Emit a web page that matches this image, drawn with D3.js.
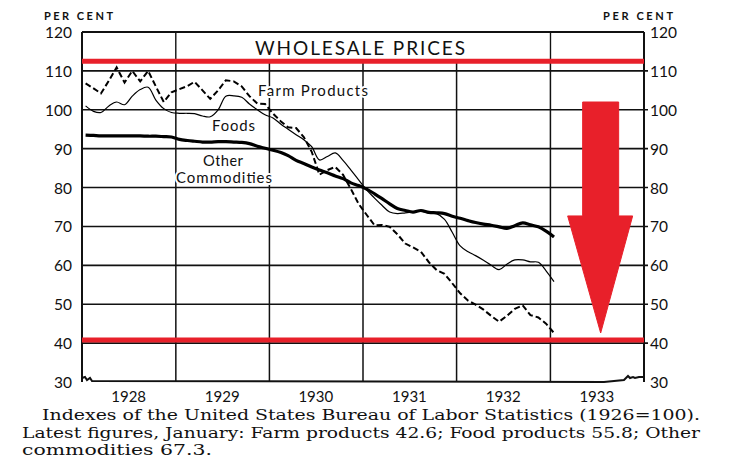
<!DOCTYPE html>
<html>
<head>
<meta charset="utf-8">
<script src="https://cdn.jsdelivr.net/npm/d3@7"></script>
<style>
  body { margin: 0; background: #fff; }
  svg { display: block; }
</style>
</head>
<body>
<svg></svg>
<script>
// monthly index values, Jan 1928 .. Jan 1933 (1926 = 100)
var farmProducts = [
  106.8, 105.5, 104.2, 107.5, 110.9, 107.0, 110.0, 107.3, 110.0, 106.0, 102.0, 104.5,
  105.3, 106.1, 107.2, 105.0, 102.8, 105.0, 107.6, 107.3, 106.0, 103.5, 101.6, 101.5,
  99.0, 97.0, 95.5, 95.3, 93.0, 89.2, 83.3, 84.5, 85.3, 83.3, 79.6, 75.8,
  73.0, 70.3, 70.4, 69.9, 68.0, 65.6, 64.6, 63.5, 60.8, 58.8, 57.8, 55.4,
  52.8, 50.9, 49.9, 48.6, 47.0, 45.5, 47.0, 48.8, 49.7, 47.2, 46.6, 45.0,
  42.6
];
var foods = [
  101.0, 99.6, 99.3, 101.0, 102.0, 101.3, 103.5, 105.2, 105.8, 102.5, 100.3, 99.3,
  99.1, 99.1, 99.0, 98.4, 98.2, 100.0, 103.5, 103.6, 103.2, 101.5, 100.0, 98.7,
  97.9, 96.3, 95.0, 93.6, 92.3, 90.5, 87.1, 88.0, 88.9, 87.0, 84.5, 82.0,
  79.4, 77.3, 75.5, 73.7, 73.3, 73.5, 73.7, 73.9, 73.4, 73.3, 71.8, 68.5,
  65.0, 63.5, 62.5, 61.3, 60.0, 58.9, 60.3, 61.4, 61.4, 60.9, 60.8, 58.6,
  55.8
];
var otherCommodities = [
  93.5, 93.4, 93.3, 93.3, 93.3, 93.3, 93.3, 93.3, 93.2, 93.2, 93.1, 93.0,
  92.4, 92.1, 91.9, 91.7, 91.7, 91.8, 91.8, 91.7, 91.6, 91.3, 90.6, 90.1,
  89.6, 89.0, 88.2, 87.0, 86.2, 85.3, 84.5, 83.8, 83.0, 82.3, 81.2, 80.5,
  79.6, 78.4, 77.2, 75.8, 74.6, 74.1, 73.7, 74.1, 73.6, 73.5, 73.3, 72.6,
  72.1, 71.5, 71.0, 70.6, 70.3, 69.9, 69.5, 70.2, 70.9, 70.4, 69.9, 68.8,
  67.3
];
var years = [1928, 1929, 1930, 1931, 1932, 1933];
var yTicks = [30, 40, 50, 60, 70, 80, 90, 100, 110, 120];

// red overlay marks drawn on the scan
var redLevels = [112.5, 40.8];
var arrowTop = 102, arrowNeck = 72.7, arrowTip = 42.6;

var caption = [
  "Indexes of the United States Bureau of Labor Statistics (1926=100).",
  "Latest figures, January:  Farm products 42.6; Food products 55.8; Other",
  "commodities 67.3."
];

var months = d3.timeMonth.range(new Date(1928, 0, 1), new Date(1933, 1, 1))
  .map(function(d) { return new Date(d.getFullYear(), d.getMonth(), 15); });

var svg = d3.select("svg").attr("width", 741).attr("height", 461);

var x = d3.scaleTime()
  .domain([new Date(1928, 0, 1), new Date(1934, 0, 1)])
  .range([82, 644]);
var y = d3.scaleLinear().domain([30, 120]).range([382, 32]);

var sans = "Lato, 'DejaVu Sans', sans-serif";
var red = "#e8202a";

// horizontal grid
svg.append("g").selectAll("line")
  .data(yTicks.filter(function(v) { return v > 30 && v < 120; })).enter()
  .append("line")
  .attr("x1", 82).attr("x2", 648)
  .attr("y1", function(v) { return y(v); })
  .attr("y2", function(v) { return y(v); })
  .attr("stroke", "#111").attr("stroke-width", 1.6);

// vertical grid at year boundaries
svg.append("g").selectAll("line")
  .data(years.slice(1)).enter()
  .append("line")
  .attr("x1", function(d) { return x(new Date(d, 0, 1)); })
  .attr("x2", function(d) { return x(new Date(d, 0, 1)); })
  .attr("y1", y(120)).attr("y2", y(30))
  .attr("stroke", "#111").attr("stroke-width", 1.5);

// title box hides the inner grid
svg.append("rect")
  .attr("x", x(new Date(1929, 0, 1)) + 1)
  .attr("width", x(new Date(1933, 0, 1)) - x(new Date(1929, 0, 1)) - 2)
  .attr("y", y(120) + 1).attr("height", y(112.5) - y(120) - 1)
  .attr("fill", "#fff");
svg.append("line")
  .attr("x1", 82).attr("x2", 644)
  .attr("y1", y(112.5)).attr("y2", y(112.5))
  .attr("stroke", "#111").attr("stroke-width", 1.5);

svg.append("text")
  .attr("x", 255).attr("y", 55)
  .attr("textLength", 210)
  .attr("font-family", sans).attr("font-size", 19)
  .attr("fill", "#111")
  .text("WHOLESALE PRICES");

// frame
svg.append("line").attr("x1", 82).attr("x2", 82).attr("y1", y(120)).attr("y2", y(30))
  .attr("stroke", "#111").attr("stroke-width", 2);
svg.append("line").attr("x1", 644).attr("x2", 644).attr("y1", y(120)).attr("y2", y(30))
  .attr("stroke", "#111").attr("stroke-width", 2);
svg.append("line").attr("x1", 82).attr("x2", 644).attr("y1", y(120)).attr("y2", y(120))
  .attr("stroke", "#111").attr("stroke-width", 1.8);
// bottom line with the little break squiggles
var bx0 = x.range()[0], bx1 = x.range()[1], by = y(30);
svg.append("path")
  .attr("d", "M" + bx0 + "," + (by - 4) + " l3,-1 l2,3 l3,-2 l2,3 L" + (bx1 - 40) + "," + by +
    " l20,-2 l4,-4 l2,2 l3,-1 l2,1 l4,-1 l5,0")
  .attr("fill", "none").attr("stroke", "#111").attr("stroke-width", 2);

// tick labels
svg.append("g").selectAll("text")
  .data(yTicks).enter().append("text")
  .attr("x", 72).attr("y", function(v) { return y(v) + 6; })
  .attr("text-anchor", "end")
  .attr("font-family", sans).attr("font-size", 15.5).attr("fill", "#111")
  .text(function(v) { return v; });
svg.append("g").selectAll("text")
  .data(yTicks).enter().append("text")
  .attr("x", 650).attr("y", function(v) { return y(v) + 6; })
  .attr("font-family", sans).attr("font-size", 15.5).attr("fill", "#111")
  .text(function(v) { return v; });

svg.append("text").attr("x", 44).attr("y", 20)
  .attr("textLength", 69)
  .attr("font-family", sans).attr("font-size", 11).attr("font-weight", "bold").attr("fill", "#111")
  .text("PER CENT");
svg.append("text").attr("x", 603).attr("y", 20)
  .attr("textLength", 70)
  .attr("font-family", sans).attr("font-size", 11).attr("font-weight", "bold").attr("fill", "#111")
  .text("PER CENT");

svg.append("g").selectAll("text")
  .data(years).enter().append("text")
  .attr("x", function(d) { return x(new Date(d, 6, 1)); })
  .attr("y", 402)
  .attr("text-anchor", "middle")
  .attr("font-family", sans).attr("font-size", 15).attr("fill", "#111")
  .text(function(d) { return d; });

// series
var line = d3.line()
  .x(function(d, i) { return x(months[i]); })
  .y(function(d) { return y(d); });

svg.append("path").datum(otherCommodities)
  .attr("d", line.curve(d3.curveCatmullRom)(otherCommodities))
  .attr("fill", "none").attr("stroke", "#000").attr("stroke-width", 3.2)
  .attr("stroke-linejoin", "round");
svg.append("path").datum(foods)
  .attr("d", line.curve(d3.curveCatmullRom)(foods))
  .attr("fill", "none").attr("stroke", "#000").attr("stroke-width", 1.2);
svg.append("path").datum(farmProducts)
  .attr("d", line.curve(d3.curveLinear)(farmProducts))
  .attr("fill", "none").attr("stroke", "#000").attr("stroke-width", 2)
  .attr("stroke-dasharray", "6,3");

// series labels
var labels = [
  { t: "Farm Products", x: 258, y: 96, w: 110 },
  { t: "Foods", x: 212, y: 131, w: 43 },
  { t: "Other", x: 203, y: 166, w: 40 },
  { t: "Commodities", x: 176, y: 183, w: 96 }
];
svg.append("g").selectAll("text")
  .data(labels).enter().append("text")
  .attr("x", function(d) { return d.x; })
  .attr("y", function(d) { return d.y; })
  .attr("textLength", function(d) { return d.w; })
  .attr("font-family", sans).attr("font-size", 15).attr("fill", "#111")
  .attr("stroke", "#fff").attr("stroke-width", 4).attr("paint-order", "stroke")
  .text(function(d) { return d.t; });

// red overlay
svg.append("g").selectAll("line")
  .data(redLevels).enter().append("line")
  .attr("x1", 82).attr("x2", 644)
  .attr("y1", function(v) { return y(v); })
  .attr("y2", function(v) { return y(v); })
  .attr("stroke", red).attr("stroke-width", 5);

var ax = x(new Date(1933, 6, 16));
svg.append("path")
  .attr("d", "M" + (ax - 18) + "," + y(arrowTop) +
    " L" + (ax + 18) + "," + y(arrowTop) +
    " L" + (ax + 18) + "," + y(arrowNeck) +
    " L" + (ax + 32) + "," + y(arrowNeck) +
    " L" + ax + "," + y(arrowTip) +
    " L" + (ax - 33) + "," + y(arrowNeck) +
    " L" + (ax - 18) + "," + y(arrowNeck) + " Z")
  .attr("fill", red).attr("stroke", red).attr("stroke-width", 1).attr("stroke-linejoin", "round");

// caption
var capPos = [
  { x: 42, y: 420, w: 658 },
  { x: 22, y: 438, w: 678 },
  { x: 22, y: 455, w: 190 }
];
svg.append("g").selectAll("text")
  .data(caption).enter().append("text")
  .attr("x", function(d, i) { return capPos[i].x; })
  .attr("y", function(d, i) { return capPos[i].y; })
  .attr("textLength", function(d, i) { return capPos[i].w; })
  .attr("lengthAdjust", "spacingAndGlyphs")
  .attr("font-family", "'DejaVu Serif', serif").attr("font-size", 14.5).attr("fill", "#111")
  .text(function(d) { return d; });
</script>
</body>
</html>
